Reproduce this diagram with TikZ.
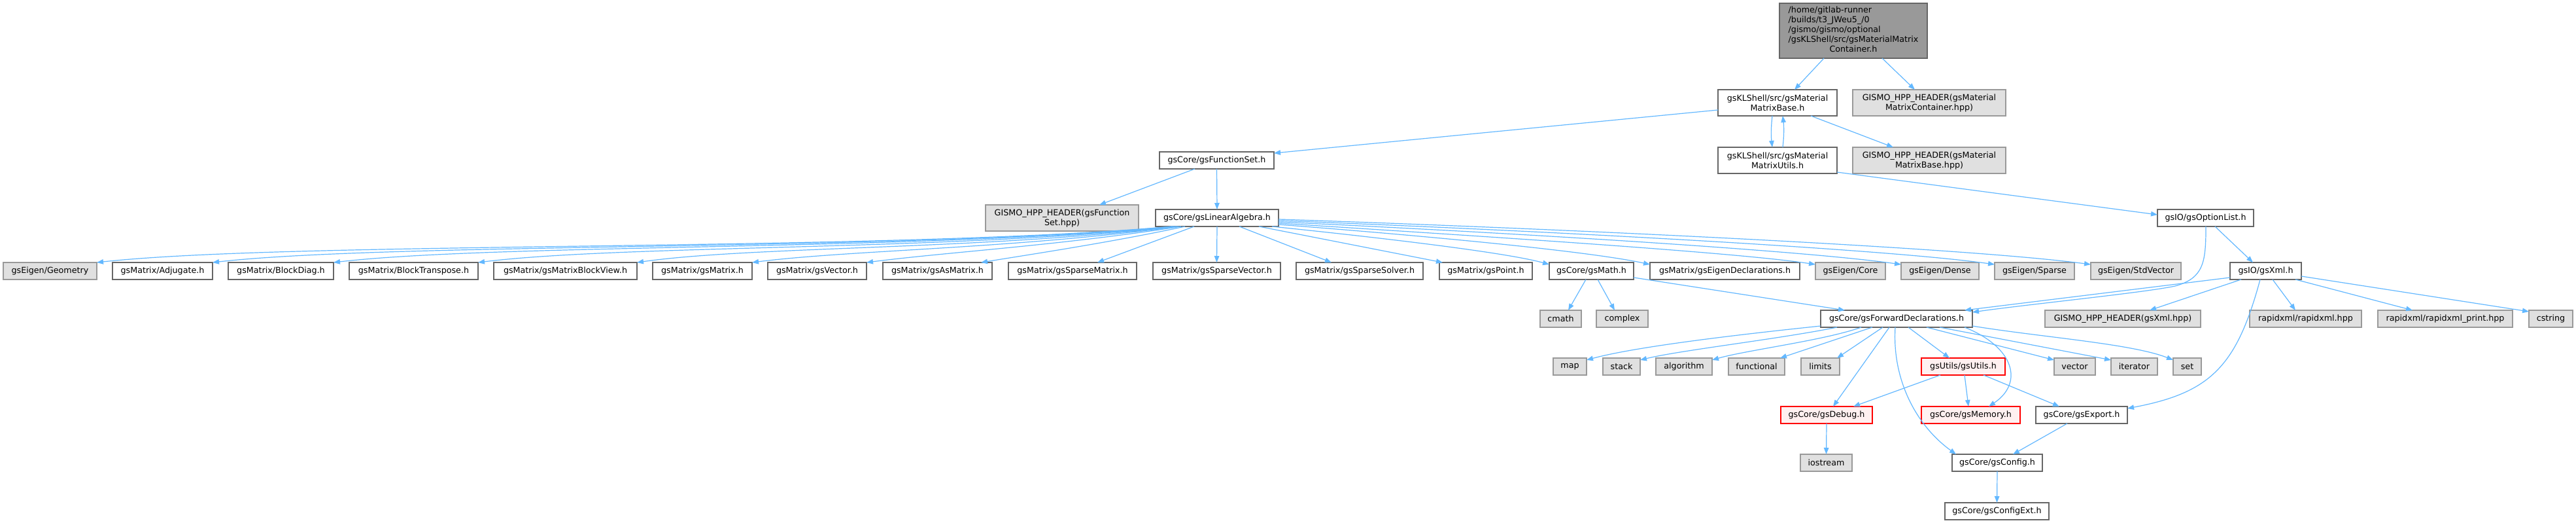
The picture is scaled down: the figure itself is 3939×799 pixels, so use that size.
\documentclass[tikz,border=0pt]{standalone}
\usepackage{fontspec}
\setmainfont{DejaVu Sans}
\usetikzlibrary{arrows.meta}
\definecolor{edgec}{HTML}{63B8FF}
\definecolor{bordw}{HTML}{666666}
\definecolor{bordg}{HTML}{999999}
\definecolor{fillg}{HTML}{E0E0E0}
\definecolor{fillr}{HTML}{FFF0F0}
\definecolor{bordr}{HTML}{FF0000}
\newcommand\bx[7]{\node[#1,anchor=north west,minimum width=#5pt,minimum height=#6pt] (#2) at (#3,#4) {#7};}
\tikzset{
  base/.style={rectangle,inner sep=0pt,outer sep=0pt,line width=1.2pt,align=center,font=\fontsize{12.7}{15}\selectfont},
  wbox/.style={base,draw=bordw,fill=white},
  gbox/.style={base,draw=bordg,fill=fillg},
  rbox/.style={base,draw=bordr,fill=fillr},
  rootbox/.style={base,draw=bordw,fill=bordg},
  edge/.style={draw=edgec,line width=1.2pt,-{Triangle[length=10pt,width=7.5pt]},fill=none}
}
\begin{document}
\begin{tikzpicture}[x=1pt,y=-1pt]
\fill[white] (0,0) rectangle (3939,799);
\useasboundingbox (0,0) rectangle (3939,799);
% nodes
\bx{rootbox}{root}{2721}{5}{226}{84}{\begin{tabular}{@{}l@{}}/home/gitlab-runner\\/builds/t3\_JWeu5\_/0\\/gismo/gismo/optional\\/gsKLShell/src/gsMaterialMatrix\\\multicolumn{1}{@{}c@{}}{Container.h}\end{tabular}}
\bx{wbox}{mb}{2627}{137}{182}{40}{gsKLShell/src/gsMaterial\\MatrixBase.h}
\bx{gbox}{hc}{2833}{137}{234}{40}{GISMO\_HPP\_HEADER(gsMaterial\\MatrixContainer.hpp)}
\bx{wbox}{mu}{2627}{225}{182}{40}{gsKLShell/src/gsMaterial\\MatrixUtils.h}
\bx{gbox}{hb}{2833}{225}{234}{40}{GISMO\_HPP\_HEADER(gsMaterial\\MatrixBase.hpp)}
\bx{wbox}{fs}{1773}{232}{175}{26}{gsCore/gsFunctionSet.h}
\bx{gbox}{hfs}{1507}{313}{234}{40}{GISMO\_HPP\_HEADER(gsFunction\\Set.hpp)}
\bx{wbox}{la}{1767}{320}{188}{26}{gsCore/gsLinearAlgebra.h}
\bx{wbox}{ol}{3299}{320}{147}{26}{gsIO/gsOptionList.h}
% row 4
\bx{gbox}{geo}{5}{401}{143}{26}{gsEigen/Geometry}
\bx{wbox}{adj}{172}{401}{153}{26}{gsMatrix/Adjugate.h}
\bx{wbox}{bd}{349}{401}{161}{26}{gsMatrix/BlockDiag.h}
\bx{wbox}{bt}{534}{401}{197}{26}{gsMatrix/BlockTranspose.h}
\bx{wbox}{bv}{755}{401}{219}{26}{gsMatrix/gsMatrixBlockView.h}
\bx{wbox}{mat}{998}{401}{152}{26}{gsMatrix/gsMatrix.h}
\bx{wbox}{vec}{1174}{401}{151}{26}{gsMatrix/gsVector.h}
\bx{wbox}{asm}{1350}{401}{167}{26}{gsMatrix/gsAsMatrix.h}
\bx{wbox}{spm}{1542}{401}{196}{26}{gsMatrix/gsSparseMatrix.h}
\bx{wbox}{spv}{1763}{401}{195}{26}{gsMatrix/gsSparseVector.h}
\bx{wbox}{sps}{1982}{401}{194}{26}{gsMatrix/gsSparseSolver.h}
\bx{wbox}{pnt}{2201}{401}{142}{26}{gsMatrix/gsPoint.h}
\bx{wbox}{math}{2369}{401}{129}{26}{gsCore/gsMath.h}
\bx{wbox}{eig}{2523}{401}{229}{26}{gsMatrix/gsEigenDeclarations.h}
\bx{gbox}{core}{2776}{401}{107}{26}{gsEigen/Core}
\bx{gbox}{dense}{2907}{401}{119}{26}{gsEigen/Dense}
\bx{gbox}{sparse}{3050}{401}{122}{26}{gsEigen/Sparse}
\bx{gbox}{stdv}{3197}{401}{138}{26}{gsEigen/StdVector}
\bx{wbox}{xml}{3410}{401}{109}{26}{gsIO/gsXml.h}
% row 5
\bx{gbox}{cmath}{2355}{474}{63}{26}{cmath}
\bx{gbox}{cplx}{2441}{474}{79}{26}{complex}
\bx{wbox}{fwd}{2784}{474}{232}{26}{gsCore/gsForwardDeclarations.h}
\bx{gbox}{hxml}{3127}{474}{238}{26}{GISMO\_HPP\_HEADER(gsXml.hpp)}
\bx{gbox}{rx}{3440}{474}{171}{26}{rapidxml/rapidxml.hpp}
\bx{gbox}{rxp}{3636}{474}{206}{26}{rapidxml/rapidxml\_print.hpp}
\bx{gbox}{cstr}{3867}{474}{67}{26}{cstring}
% row 6
\bx{gbox}{map}{2375}{547}{51}{26}{map}
\bx{gbox}{stack}{2451}{547}{57}{26}{stack}
\bx{gbox}{algo}{2532}{547}{86}{26}{algorithm}
\bx{gbox}{func}{2643}{547}{86}{26}{functional}
\bx{gbox}{lim}{2754}{547}{59}{26}{limits}
\bx{rbox}{utils}{2938}{547}{128}{26}{gsUtils/gsUtils.h}
\bx{gbox}{vect}{3141}{547}{63}{26}{vector}
\bx{gbox}{iter}{3228}{547}{71}{26}{iterator}
\bx{gbox}{set}{3323}{547}{43}{26}{set}
% row 7
\bx{rbox}{dbg}{2723}{621}{140}{26}{gsCore/gsDebug.h}
\bx{rbox}{mem}{2938}{621}{151}{26}{gsCore/gsMemory.h}
\bx{wbox}{exp}{3113}{621}{140}{26}{gsCore/gsExport.h}
% row 8
\bx{gbox}{ios}{2753}{694}{79}{26}{iostream}
\bx{wbox}{cfg}{2985}{694}{138}{26}{gsCore/gsConfig.h}
% row 9
\bx{wbox}{cfgx}{2974}{768}{159}{26}{gsCore/gsConfigExt.h}
% edges top
\draw[edge] ([xshift=68]root.south west) -- ([xshift=117]mb.north west);
\draw[edge] ([xshift=157]root.south west) -- ([xshift=95]hc.north west);
\draw[edge] ([yshift=-31]mb.north west) -- ([yshift=-2]fs.north east);
\draw[edge] ([xshift=83]mb.south west) .. controls (2708,195) and (2708,207) .. ([xshift=83]mu.north west);
\draw[edge] ([xshift=99]mu.north west) .. controls (2728,207) and (2728,195) .. ([xshift=99]mb.south west);
\draw[edge] ([xshift=142]mb.south west) -- ([xshift=62]hb.north west);
\draw[edge] ([yshift=2]mu.south east) -- ([yshift=-8]ol.north west);
\draw[edge] ([xshift=54]fs.south west) -- ([xshift=174]hfs.north west);
\draw[edge] (fs.south) -- (la.north);
% gsLinearAlgebra to the left
\draw[edge] ([xshift=25]la.south west) .. controls (1350,385) and (450,368) .. (geo.north east);
\draw[edge] ([xshift=27]la.south west) .. controls (1380,384) and (600,370) .. (adj.north east);
\draw[edge] ([xshift=29]la.south west) .. controls (1420,383) and (760,372) .. (bd.north east);
\draw[edge] ([xshift=31]la.south west) .. controls (1450,383) and (950,374) .. (bt.north east);
\draw[edge] ([xshift=33]la.south west) .. controls (1500,382) and (1150,376) .. (bv.north east);
\draw[edge] ([xshift=35]la.south west) .. controls (1550,380) and (1300,382) .. (mat.north east);
\draw[edge] ([xshift=39]la.south west) .. controls (1620,375) and (1450,385) .. (vec.north east);
\draw[edge] ([xshift=45]la.south west) .. controls (1700,370) and (1580,388) .. ([xshift=-17]asm.north east);
\draw[edge] ([xshift=59]la.south west) -- ([xshift=136]spm.north west);
% gsLinearAlgebra to the right
\draw[edge] (la.south) -- (spv.north);
\draw[edge] ([xshift=128]la.south west) -- ([xshift=54]sps.north west);
\draw[edge] ([xshift=158]la.south west) -- ([xshift=5]pnt.north west);
\draw[edge] ([xshift=178]la.south west) .. controls (2100,362) and (2300,385) .. ([yshift=-3]math.north west);
\draw[edge] ([yshift=-23]la.north east) .. controls (2150,358) and (2420,382) .. ([yshift=-3]eig.north west);
\draw[edge] ([yshift=-21]la.north east) .. controls (2250,360) and (2650,385) .. ([yshift=-3]core.north west);
\draw[edge] ([yshift=-19]la.north east) .. controls (2300,355) and (2750,382) .. ([yshift=-3]dense.north west);
\draw[edge] ([yshift=-17]la.north east) .. controls (2350,352) and (2880,380) .. ([yshift=-3]sparse.north west);
\draw[edge] ([yshift=-15]la.north east) .. controls (2400,350) and (3000,378) .. ([yshift=-3]stdv.north west);
% gsMath
\draw[edge] ([xshift=56]math.south west) -- ([xshift=43]cmath.north west);
\draw[edge] ([xshift=74]math.south west) -- ([xshift=28]cplx.north west);
\draw[edge] ([yshift=3]math.south east) -- ([xshift=37]fwd.north west);
% gsOptionList
\draw[edge] ([xshift=88]ol.south west) -- ([xshift=35]xml.north west);
\draw[edge] ([xshift=74]ol.south west) .. controls (3373,400) and (3370,425) .. (3326,437) .. controls (3280,447) and (3100,465) .. ([yshift=-3]fwd.north east);
% gsXml
\draw[edge] ([yshift=-23]xml.north west) -- ([xshift=-12]fwd.north east);
\draw[edge] ([xshift=17]xml.south west) -- ([xshift=160]hxml.north west);
\draw[edge] ([xshift=65]xml.south west) -- ([xshift=70]rx.north west);
\draw[edge] ([xshift=100]xml.south west) -- ([xshift=53]rxp.north west);
\draw[edge] ([yshift=5]xml.south east) -- ([yshift=-2]cstr.north west);
\draw[edge] ([xshift=46]xml.south west) .. controls (3420,560) and (3380,600) .. ([yshift=-3]exp.north east);
% gsForwardDeclarations
\draw[edge] ([yshift=2]fwd.south west) .. controls (2650,512) and (2500,530) .. ([yshift=-3]map.north east);
\draw[edge] ([xshift=25]fwd.south west) .. controls (2720,518) and (2570,535) .. ([yshift=-3]stack.north east);
\draw[edge] ([xshift=62]fwd.south west) .. controls (2790,520) and (2670,535) .. ([yshift=-3]algo.north east);
\draw[edge] ([xshift=79]fwd.south west) -- ([xshift=79]func.north west);
\draw[edge] ([xshift=95]fwd.south west) -- ([xshift=55]lim.north west);
\draw[edge] ([xshift=105]fwd.south west) -- ([xshift=80]dbg.north west);
\draw[edge] ([xshift=114]fwd.south west) .. controls (2893,580) and (2930,650) .. ([xshift=6]cfg.north west);
\draw[edge] ([xshift=134]fwd.south west) -- ([xshift=43]utils.north west);
\draw[edge] ([xshift=162]fwd.south west) -- ([yshift=-3]vect.north west);
\draw[edge] ([xshift=182]fwd.south west) -- ([yshift=-3]iter.north west);
\draw[edge] ([xshift=220]fwd.south west) .. controls (3080,530) and (3095,585) .. ([xshift=103]mem.north west);
\draw[edge] ([yshift=2]fwd.south east) .. controls (3120,515) and (3260,525) .. ([yshift=-3]set.north west);
% lower
\draw[edge] ([xshift=29]utils.south west) -- ([xshift=111]dbg.north west);
\draw[edge] ([xshift=66]utils.south west) -- ([xshift=72]mem.north west);
\draw[edge] ([xshift=95]utils.south west) -- ([xshift=36]exp.north west);
\draw[edge] (dbg.south) -- (ios.north);
\draw[edge] ([xshift=48]exp.south west) -- ([xshift=93]cfg.north west);
\draw[edge] (cfg.south) -- (cfgx.north);
\end{tikzpicture}
\end{document}
